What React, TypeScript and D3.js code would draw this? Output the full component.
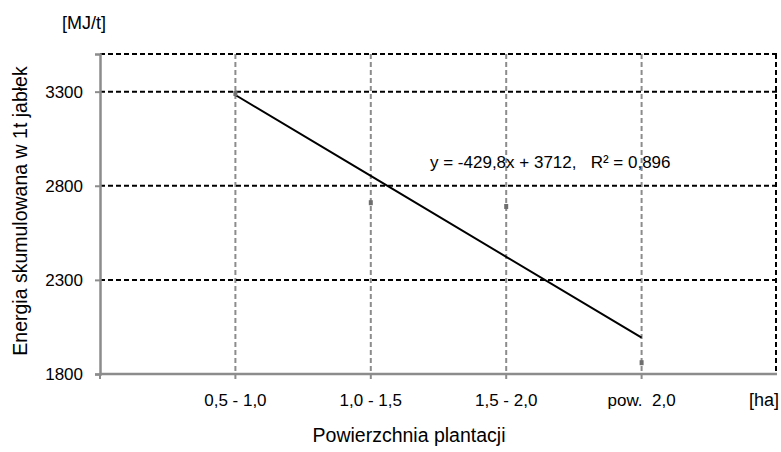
import React, { useEffect, useRef } from 'react';
import * as d3 from 'd3';

// categories of plantation area
const categories = ['0,5 - 1,0', '1,0 - 1,5', '1,5 - 2,0', 'pow.  2,0'];
const unitX = '[ha]';
const energy = [3290, 2710, 2690, 1860];
const yTicks = [1800, 2300, 2800, 3300];
const trendSlope = -429.8;
const trendIntercept = 3712;
const trendLabel = 'y = -429,8x + 3712,   R² = 0,896';

const App = () => {
  const ref = useRef<SVGSVGElement>(null);

  useEffect(() => {
    const svg = d3.select(ref.current);
    svg.selectAll('*').remove();

    const margin = { top: 54, right: 4, bottom: 78, left: 100 };
    const width = 781 - margin.left - margin.right;
    const height = 452 - margin.top - margin.bottom;
    const font = 'Arial, "Liberation Sans", sans-serif';

    const x = d3.scaleLinear().domain([0, categories.length + 1]).range([0, width]);
    const y = d3.scaleLinear().domain([1800, 3500]).range([height, 0]);

    const g = svg.append('g').attr('transform', `translate(${margin.left},${margin.top})`);

    // vertical grid (gray dashed)
    g.selectAll('.vgrid')
      .data(categories)
      .enter()
      .append('line')
      .attr('x1', (d, i) => x(i + 1))
      .attr('x2', (d, i) => x(i + 1))
      .attr('y1', 0)
      .attr('y2', height)
      .attr('stroke', '#8c8c8c')
      .attr('stroke-width', 2)
      .attr('stroke-dasharray', '5,3');

    // horizontal grid (black dashed)
    g.selectAll('.hgrid')
      .data(yTicks.slice(1).concat([3500]))
      .enter()
      .append('line')
      .attr('x1', 0)
      .attr('x2', width)
      .attr('y1', d => y(d))
      .attr('y2', d => y(d))
      .attr('stroke', '#000')
      .attr('stroke-width', 2)
      .attr('stroke-dasharray', '5,3');

    // right border
    g.append('line')
      .attr('x1', width - 1)
      .attr('x2', width - 1)
      .attr('y1', 0)
      .attr('y2', height)
      .attr('stroke', '#000')
      .attr('stroke-width', 2)
      .attr('stroke-dasharray', '5,3');

    // bottom axis line
    g.append('line')
      .attr('x1', 0)
      .attr('x2', width)
      .attr('y1', height)
      .attr('y2', height)
      .attr('stroke', '#8c8c8c')
      .attr('stroke-width', 2.5);

    // left axis
    const yAxis = d3.axisLeft(y).tickValues(yTicks).tickSize(5).tickPadding(12).tickFormat(d3.format('d'));
    const ya = g.append('g').call(yAxis);
    ya.select('.domain').attr('stroke', '#8c8c8c').attr('stroke-width', 2.5);
    ya.selectAll('line').attr('stroke', '#8c8c8c').attr('stroke-width', 2);
    ya.selectAll('text').attr('font-family', font).attr('font-size', 17).attr('fill', '#000');

    // x tick marks
    g.selectAll('.xtick')
      .data(d3.range(0, categories.length + 1))
      .enter()
      .append('line')
      .attr('x1', d => x(d))
      .attr('x2', d => x(d))
      .attr('y1', height)
      .attr('y2', height + 5)
      .attr('stroke', '#8c8c8c')
      .attr('stroke-width', 2);

    // x labels
    g.selectAll('.xlabel')
      .data(categories)
      .enter()
      .append('text')
      .attr('x', (d, i) => x(i + 1))
      .attr('y', height + 31.5)
      .attr('text-anchor', 'middle')
      .attr('font-family', font)
      .attr('font-size', 17)
      .style('white-space', 'pre')
      .text(d => d);

    g.append('text')
      .attr('x', width + 2)
      .attr('y', height + 31.5)
      .attr('text-anchor', 'end')
      .attr('font-family', font)
      .attr('font-size', 18)
      .text(unitX);

    // trend line
    const trend = categories.map((d, i) => ({ i: i + 1, v: trendIntercept + trendSlope * (i + 1) }));
    g.append('path')
      .datum(trend)
      .attr('fill', 'none')
      .attr('stroke', '#000')
      .attr('stroke-width', 2)
      .attr('d', d3.line<{ i: number; v: number }>().x(d => x(d.i)).y(d => y(d.v)));

    // data points
    g.selectAll('.pt')
      .data(energy)
      .enter()
      .append('rect')
      .attr('x', (d, i) => x(i + 1) - 2)
      .attr('y', d => y(d) - 2.5)
      .attr('width', 4)
      .attr('height', 5)
      .attr('fill', '#6e6e6e');

    g.append('text')
      .attr('x', 330)
      .attr('y', 114)
      .attr('font-family', font)
      .attr('font-size', 17)
      .style('white-space', 'pre')
      .text(trendLabel);

    // titles
    svg.append('text')
      .attr('x', 62)
      .attr('y', 29)
      .attr('font-family', font)
      .attr('font-size', 18)
      .text('[MJ/t]');

    svg.append('text')
      .attr('transform', 'translate(27,211) rotate(-90)')
      .attr('text-anchor', 'middle')
      .attr('font-family', font)
      .attr('font-size', 19.5)
      .text('Energia skumulowana w 1t jabłek');

    svg.append('text')
      .attr('x', 409)
      .attr('y', 442)
      .attr('text-anchor', 'middle')
      .attr('font-family', font)
      .attr('font-size', 19.5)
      .text('Powierzchnia plantacji');
  }, []);

  return (
    <svg ref={ref} width={781} height={452} style={{ position: 'absolute', left: 0, top: 0, background: '#fff' }} />
  );
};

export default App;
